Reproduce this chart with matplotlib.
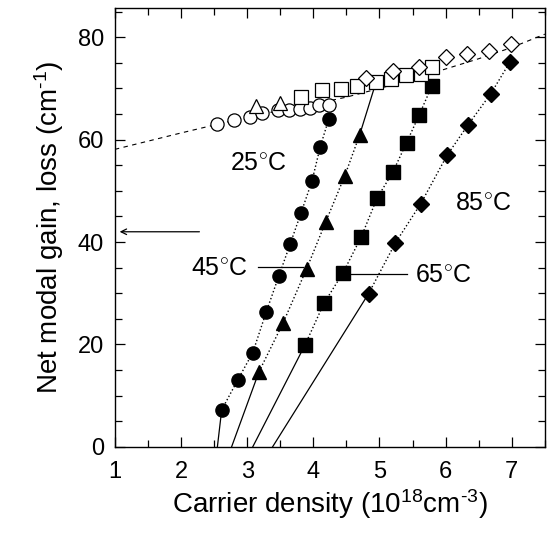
import numpy as np
import matplotlib
matplotlib.use('Agg')
import matplotlib.pyplot as plt
from matplotlib.ticker import MultipleLocator

plt.rcParams['font.family'] = ['Liberation Sans', 'DejaVu Sans']
plt.rcParams['mathtext.fontset'] = 'custom'
plt.rcParams['mathtext.rm'] = 'Liberation Sans'
plt.rcParams['mathtext.it'] = 'Liberation Sans'

# filled points (net modal gain) for each temperature
n25 = [2.615, 2.855, 3.085, 3.29, 3.48, 3.65, 3.815, 3.98, 4.105, 4.235]
g25 = [7.2, 13.0, 18.4, 26.4, 33.4, 39.6, 45.7, 51.9, 58.6, 64.1]
n45 = [3.18, 3.54, 3.90, 4.19, 4.475, 4.70]
g45 = [14.7, 24.1, 34.8, 44.0, 52.9, 60.9]
n65 = [3.875, 4.16, 4.45, 4.725, 4.965, 5.20, 5.41, 5.60, 5.79]
g65 = [19.9, 28.0, 34.0, 41.0, 48.6, 53.6, 59.4, 64.8, 70.4]
n85 = [4.835, 5.24, 5.625, 6.025, 6.335, 6.685, 6.975]
g85 = [29.9, 39.8, 47.5, 57.0, 62.8, 69.0, 75.2]

# transparency intercepts (gain = 0)
n0 = {'25': 2.55, '45': 2.765, '65': 3.085, '85': 3.385}

# open points (loss)
lc_n = [2.55, 2.80, 3.05, 3.225, 3.46, 3.635, 3.80, 3.95, 4.085, 4.235]
lc_a = [63.0, 63.9, 64.5, 65.2, 65.8, 65.8, 65.9, 66.1, 66.7, 66.8]
lt_n = [3.135, 3.50]
lt_a = [66.5, 67.2]
ls_n = [3.81, 4.125, 4.415, 4.665, 4.95, 5.175, 5.40, 5.625, 5.80]
ls_a = [68.3, 69.6, 69.8, 70.4, 71.3, 71.9, 72.6, 72.8, 74.2]
ld_n = [4.80, 5.20, 5.60, 6.01, 6.325, 6.66, 6.985]
ld_a = [72.1, 73.5, 74.2, 76.1, 76.8, 77.4, 78.6]

# dashed loss curve
fit_n = [1.0, 1.5, 2.0, 2.55, 3.0, 3.5, 4.0, 4.5, 5.0, 5.5, 6.0, 6.5, 7.0, 7.5]
fit_a = [58.1, 59.7, 61.3, 63.0, 64.4, 65.7, 66.9, 68.3, 70.0, 71.8, 73.8, 75.8, 78.0, 80.6]

fig = plt.figure(figsize=(5.47, 5.37), dpi=100)
ax = fig.add_axes([0.210, 0.168, 0.786, 0.817])

ax.plot(fit_n, fit_a, color='black', ls=(0, (4, 4)), lw=0.8)

ms = 9.5
for n, g, m, key in [(n25, g25, 'o', '25'), (n45, g45, '^', '45'),
                     (n65, g65, 's', '65'), (n85, g85, 'D', '85')]:
    ax.plot(n, g, color='black', ls=':', lw=1.0)
    ax.plot([n0[key], n[0]], [0, g[0]], color='black', lw=0.9)
    ax.plot(n, g, ls='none', marker=m, color='black', ms=ms if m != 'D' else ms - 1.5)

# solid line from top 45C point to saturation curve
ax.plot([n45[-1], 4.95], [g45[-1], 71.3], color='black', lw=0.9)

op = dict(ls='none', mfc='white', mec='black', mew=0.9)
ax.plot(lc_n, lc_a, marker='o', ms=ms, **op)
ax.plot(lt_n, lt_a, marker='^', ms=ms, **op)
ax.plot(ls_n, ls_a, marker='s', ms=ms, **op)
ax.plot(ld_n, ld_a, marker='D', ms=ms - 1.5, **op)

fs = 18
ax.text(3.175, 55.4, '25$^{\\circ}$C', fontsize=fs, ha='center', va='center')
ax.text(2.575, 35.0, '45$^{\\circ}$C', fontsize=fs, ha='center', va='center')
ax.plot([3.17, 3.84], [35.1, 35.1], color='black', lw=0.9)
ax.text(5.96, 33.5, '65$^{\\circ}$C', fontsize=fs, ha='center', va='center')
ax.plot([4.57, 5.42], [33.7, 33.7], color='black', lw=0.9)
ax.text(6.575, 47.6, '85$^{\\circ}$C', fontsize=fs, ha='center', va='center')

ax.annotate('', xy=(1.03, 42.0), xytext=(2.32, 42.0),
            arrowprops=dict(arrowstyle='->', color='black', lw=0.9))

ax.set_xlim(1, 7.5)
ax.set_ylim(0, 85.7)
ax.xaxis.set_major_locator(MultipleLocator(1))
ax.xaxis.set_minor_locator(MultipleLocator(0.5))
ax.yaxis.set_major_locator(MultipleLocator(20))
ax.yaxis.set_minor_locator(MultipleLocator(5))
ax.tick_params(which='both', direction='in', top=True, right=True, width=0.9)
ax.tick_params(which='major', length=7, labelsize=17)
ax.tick_params(axis='x', which='major', pad=10)
ax.tick_params(axis='y', which='major', pad=8)
ax.tick_params(which='minor', length=5)
for s in ax.spines.values():
    s.set_linewidth(1.0)

ax.set_xlabel('Carrier density (10$^{18}$cm$^{\\text{-}3}$)', fontsize=20, labelpad=3)
ax.set_ylabel('Net modal gain, loss (cm$^{\\text{-}1}$)', fontsize=20, labelpad=8)

fig.savefig('out.png', dpi=100)
